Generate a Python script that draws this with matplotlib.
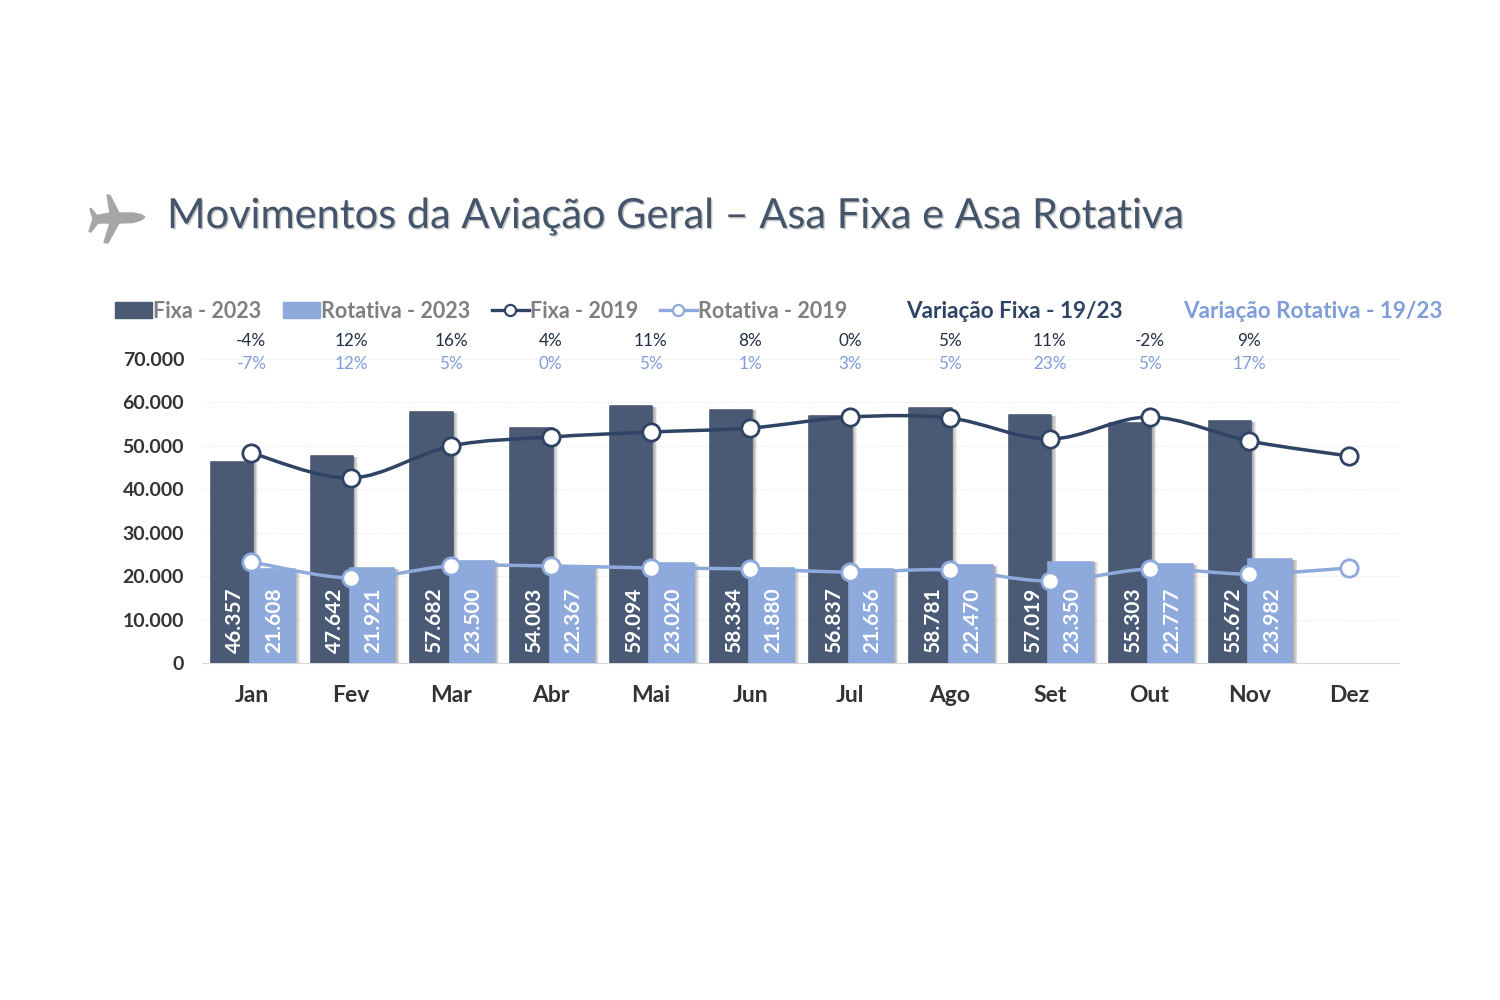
import numpy as np
import matplotlib
matplotlib.use("Agg")
from matplotlib import pyplot as plt
from matplotlib import patheffects as pe
from matplotlib.lines import Line2D
from matplotlib.patches import Patch, PathPatch, Polygon
from matplotlib.path import Path

meses = ["Jan", "Fev", "Mar", "Abr", "Mai", "Jun", "Jul", "Ago", "Set", "Out", "Nov", "Dez"]

fixa_2023 = [46357, 47642, 57682, 54003, 59094, 58334, 56837, 58781, 57019, 55303, 55672]
rotativa_2023 = [21608, 21921, 23500, 22367, 23020, 21880, 21656, 22470, 23350, 22777, 23982]

fixa_2019 = [48350, 42600, 49970, 52040, 53190, 54110, 56640, 56400, 51580, 56640, 51120, 47660]
rotativa_2019 = [23260, 19570, 22340, 22340, 21880, 21650, 20950, 21420, 18880, 21650, 20490, 21880]

var_fixa = ["-4%", "12%", "16%", "4%", "11%", "8%", "0%", "5%", "11%", "-2%", "9%"]
var_rotativa = ["-7%", "12%", "5%", "0%", "5%", "1%", "3%", "5%", "23%", "5%", "17%"]

yticks = [0, 10000, 20000, 30000, 40000, 50000, 60000, 70000]
ylabels = ["0", "10.000", "20.000", "30.000", "40.000", "50.000", "60.000", "70.000"]

COR_FIXA = "#4a5a74"
COR_ROT = "#8ea9db"
COR_LINHA_FIXA = "#2f4464"
COR_LINHA_ROT = "#8ea9db"
COR_TEXTO_ROT = "#7f9ed9"
COR_TITULO = "#44546a"
FONTE = "Lato"

plt.rcParams["font.family"] = [FONTE, "DejaVu Sans"]


def px(x, y):
    """Pixel of the 1500x1000 picture to figure fraction."""
    return x / 1500, 1 - y / 1000


def smooth_path(x, y):
    """Smooth line through the points, as a bezier path."""
    pts = np.column_stack([x, y]).astype(float)
    verts = [pts[0]]
    codes = [Path.MOVETO]
    for i in range(len(pts) - 1):
        a = pts[max(i - 1, 0)]
        b = pts[i]
        c = pts[i + 1]
        d = pts[min(i + 2, len(pts) - 1)]
        verts += [b + (c - a) / 6, c - (d - b) / 6, c]
        codes += [Path.CURVE4] * 3
    return Path(verts, codes)


def draw_line(ax, x, y, color):
    ax.add_patch(PathPatch(smooth_path(x, y), fill=False, edgecolor=color, lw=2.5,
                           zorder=4, clip_on=False))
    ax.plot(x, y, ls="none", marker="o", ms=12.5, mfc="white", mec=color, mew=2,
            zorder=5, clip_on=False)


def main():
    fig = plt.figure(figsize=(15, 10), dpi=100)
    left, bottom = px(201.5, 663)
    right, top = px(1399, 359)
    ax = fig.add_axes([left, bottom, right - left, top - bottom])

    x = np.arange(len(meses))
    x23 = x[:len(fixa_2023)]

    # soft shadow to the right of the bars
    sombra = [pe.SimplePatchShadow(offset=(o, -0.6), shadow_rgbFace="#000000", alpha=0.07)
              for o in (3.6, 3, 2.4, 1.8, 1.2)] + [pe.Normal()]

    fixa_bars = ax.bar(x23 - 0.195, fixa_2023, width=0.425, color=COR_FIXA, edgecolor=COR_FIXA,
                       lw=1.2, joinstyle="round", zorder=2)
    rot_bars = ax.bar(x23 + 0.21, rotativa_2023, width=0.445, color=COR_ROT, edgecolor=COR_ROT,
                      lw=1.2, joinstyle="round", zorder=3)
    for b in list(fixa_bars) + list(rot_bars):
        b.set_path_effects(sombra)

    draw_line(ax, x, fixa_2019, COR_LINHA_FIXA)
    draw_line(ax, x, rotativa_2019, COR_LINHA_ROT)

    for i in range(len(x23)):
        ax.annotate(f"{fixa_2023[i]:,}".replace(",", "."), xy=(i - 0.165, 0), xytext=(0, 7),
                    textcoords="offset points", rotation=90, ha="center", va="bottom",
                    color="white", fontsize=15, fontweight="bold", zorder=6)
        ax.annotate(f"{rotativa_2023[i]:,}".replace(",", "."), xy=(i + 0.225, 0), xytext=(0, 7),
                    textcoords="offset points", rotation=90, ha="center", va="bottom",
                    color="white", fontsize=15, fontweight="bold", zorder=6)
        ax.annotate(var_fixa[i], xy=(i, 70000), xytext=(0, 13), textcoords="offset points",
                    ha="center", va="center", color="#222f45", fontsize=12.3, annotation_clip=False)
        ax.annotate(var_rotativa[i], xy=(i, 70000), xytext=(0, -3.5), textcoords="offset points",
                    ha="center", va="center", color=COR_TEXTO_ROT, fontsize=12.3, annotation_clip=False)

    ax.set_xlim(-0.5, len(meses) - 0.5)
    ax.set_ylim(0, 70000)
    ax.set_xticks(x, meses)
    ax.set_yticks(yticks, ylabels)
    ax.tick_params(axis="both", length=0, colors="#333333")
    ax.tick_params(axis="y", pad=12.5, labelsize=14)
    ax.tick_params(axis="x", pad=16, labelsize=16.5)
    for t in ax.get_xticklabels() + ax.get_yticklabels():
        t.set_fontweight("bold")

    ax.grid(axis="y", color="#e6e6e6", lw=0.8, ls=(0, (1, 1.5)), zorder=0)
    ax.set_axisbelow(True)
    for s in ["top", "right", "left"]:
        ax.spines[s].set_visible(False)
    ax.spines["bottom"].set_color("#d9d9d9")
    ax.spines["bottom"].set_zorder(1)

    handles = [
        Patch(color=COR_FIXA, label="Fixa - 2023"),
        Patch(color=COR_ROT, label="Rotativa - 2023"),
        Line2D([], [], color=COR_LINHA_FIXA, lw=2.4, marker="o", ms=8, mfc="white", mew=1.6,
               label="Fixa - 2019"),
        Line2D([], [], color=COR_LINHA_ROT, lw=2.4, marker="o", ms=8, mfc="white", mew=1.6,
               label="Rotativa - 2019"),
    ]
    fig.legend(handles=handles, loc="center left", bbox_to_anchor=px(115, 311), ncols=4,
               frameon=False, labelcolor="#7f7f7f", borderpad=0, borderaxespad=0,
               handlelength=1.72, handleheight=0.7, handletextpad=0.05, columnspacing=1.0,
               prop={"family": FONTE, "size": 15.5, "weight": "bold"})

    fig.text(*px(906, 311), "Variação Fixa - 19/23", ha="left", va="center",
             color="#2f4464", fontsize=16.2, fontweight="bold")
    fig.text(*px(1183, 311), "Variação Rotativa - 19/23", ha="left", va="center",
             color=COR_TEXTO_ROT, fontsize=16.2, fontweight="bold")

    title = fig.text(*px(167, 216), "Movimentos da Aviação Geral – Asa Fixa e Asa Rotativa",
                     ha="left", va="center", color=COR_TITULO, fontsize=29.9)
    title.set_path_effects([pe.SimplePatchShadow(offset=(1, -1), shadow_rgbFace="#000000", alpha=0.22),
                            pe.Normal()])

    # little plane next to the title
    aviao = [(145, 217), (141, 214.5), (133, 213), (119, 213), (110, 195.5), (107, 195), (110, 213),
             (97, 215.5), (91, 208.5), (90, 209), (93, 219), (89, 231.5), (91, 232), (98, 223),
             (110, 223), (104, 242.5), (108, 243), (119, 223), (133, 222.5), (141, 220)]
    fig.add_artist(Polygon([px(*p) for p in aviao], closed=True, color="#a6a6a6",
                           transform=fig.transFigure))

    fig.savefig("out.png", dpi=100, facecolor="white")


if __name__ == "__main__":
    main()
